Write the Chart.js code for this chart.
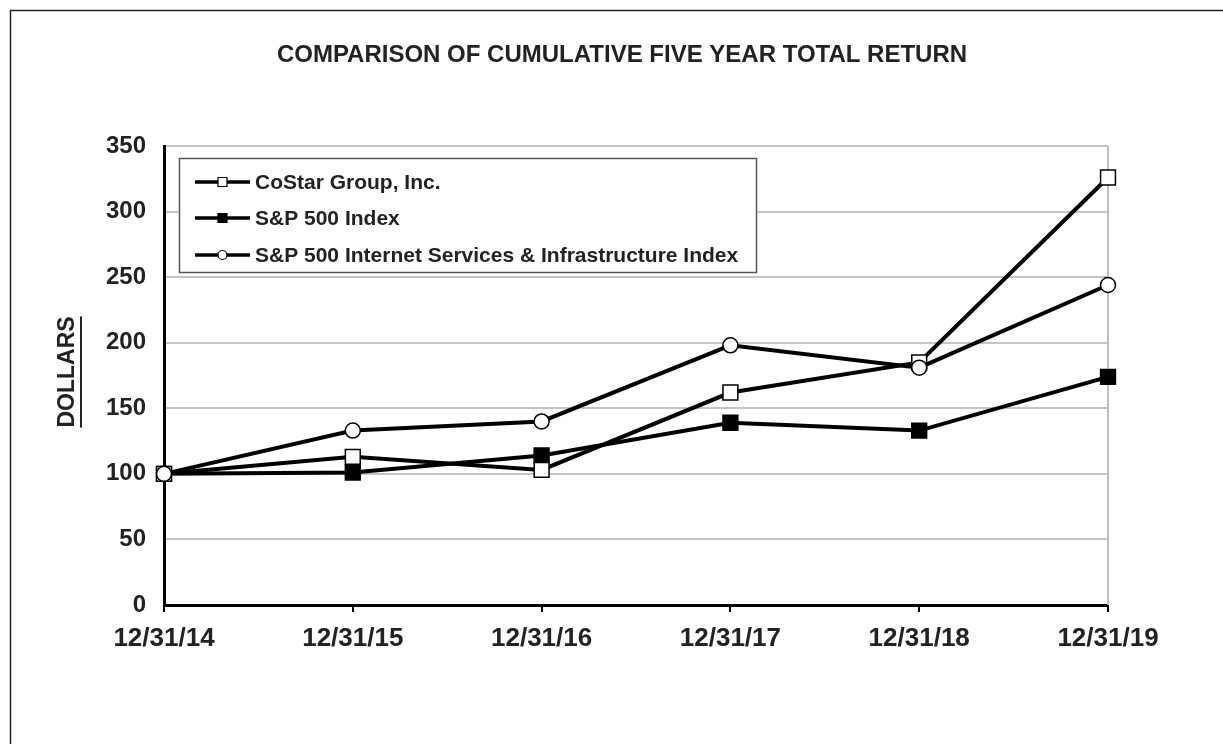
<!DOCTYPE html>
<html>
<head>
<meta charset="utf-8">
<title>Comparison of Cumulative Five Year Total Return</title>
<script src="https://cdn.jsdelivr.net/npm/chart.js@4.4.1/dist/chart.umd.min.js"></script>
<style>
  html, body { margin: 0; padding: 0; background: #fff; }
  #wrap { width: 1223px; height: 744px; position: relative; }
</style>
</head>
<body>
<div id="wrap"><canvas id="myChart" width="1223" height="744"></canvas></div>
<script>
// values
const fechas = ['12/31/14', '12/31/15', '12/31/16', '12/31/17', '12/31/18', '12/31/19'];
const costar = [100, 113, 103, 162, 185, 326];
const sp500 = [100, 101, 114, 139, 133, 174];
const internet = [100, 133, 140, 198, 181, 244];
const nombres = ['CoStar Group, Inc.', 'S&P 500 Index', 'S&P 500 Internet Services & Infrastructure Index'];
const titulo = 'COMPARISON OF CUMULATIVE FIVE YEAR TOTAL RETURN';
const yTicks = [0, 50, 100, 150, 200, 250, 300, 350];

const FONT = '"Liberation Sans", Arial, Helvetica, sans-serif';

// marcador para cada serie
const estilos = [
  { pointStyle: 'rect', fill: '#fff', r: 10.5, order: 1 },
  { pointStyle: 'rect', fill: '#000', r: 10.5, order: 2 },
  { pointStyle: 'circle', fill: '#fff', r: 7.5, order: 0 }
];
const series = [costar, sp500, internet];

const datasets = series.map((d, i) => ({
  label: nombres[i],
  data: d,
  borderColor: '#000',
  borderWidth: 4,
  pointStyle: estilos[i].pointStyle,
  pointRadius: estilos[i].r,
  pointBackgroundColor: estilos[i].fill,
  pointBorderColor: '#000',
  pointBorderWidth: 1.5,
  tension: 0,
  clip: false,
  order: estilos[i].order
}));

// marco exterior, titulo, borde derecho gris, rotulo DOLLARS y leyenda
const extras = {
  id: 'extras',
  beforeDatasetsDraw(chart) {
    const c = chart.ctx, a = chart.chartArea;
    c.save();
    c.strokeStyle = '#bdbdbd';
    c.lineWidth = 2;
    c.beginPath();
    c.moveTo(a.right, a.top);
    c.lineTo(a.right, a.bottom);
    c.stroke();
    c.restore();
  },
  afterDraw(chart) {
    const c = chart.ctx;
    c.save();
    // outer frame (top and left only)
    c.strokeStyle = '#222';
    c.lineWidth = 1.5;
    c.beginPath();
    c.moveTo(10.5, 744);
    c.lineTo(10.5, 10.5);
    c.lineTo(1223, 10.5);
    c.stroke();

    // title
    c.fillStyle = '#222';
    c.font = 'bold 24px ' + FONT;
    c.textAlign = 'center';
    c.textBaseline = 'middle';
    c.fillText(titulo, 622, 55);

    // DOLLARS
    c.translate(68, 372);
    c.rotate(-Math.PI / 2);
    c.font = 'bold 23px ' + FONT;
    c.fillText('DOLLARS', 0, 0);
    const w = c.measureText('DOLLARS').width;
    c.fillRect(-w / 2, 12, w, 2);
    c.restore();

    // legend
    c.save();
    c.fillStyle = '#fff';
    c.fillRect(179, 158, 577, 114);
    c.strokeStyle = '#555';
    c.lineWidth = 1.5;
    c.strokeRect(179.5, 158.5, 577, 114);
    const filas = [182, 218, 255];
    nombres.forEach((n, i) => {
      const y = filas[i];
      c.strokeStyle = '#000';
      c.lineWidth = 3.5;
      c.beginPath();
      c.moveTo(195, y);
      c.lineTo(250, y);
      c.stroke();
      c.fillStyle = estilos[i].fill;
      c.lineWidth = 1.2;
      c.beginPath();
      if (estilos[i].pointStyle === 'rect') {
        c.rect(218, y - 4.5, 9, 9);
      } else {
        c.arc(222.5, y, 4.5, 0, Math.PI * 2);
      }
      c.fill();
      c.stroke();
      c.fillStyle = '#222';
      c.font = 'bold 21px ' + FONT;
      c.textAlign = 'left';
      c.textBaseline = 'middle';
      c.fillText(n, 255, y + 1);
    });
    c.restore();
  }
};

const ctx = document.getElementById('myChart');
new Chart(ctx, {
  type: 'line',
  data: { labels: fechas, datasets: datasets },
  plugins: [extras],
  options: {
    responsive: false,
    animation: false,
    devicePixelRatio: 1,
    layout: { padding: { left: 0, top: 146, right: 115, bottom: 0 } },
    plugins: {
      legend: { display: false },
      tooltip: { enabled: false },
      title: { display: false }
    },
    scales: {
      x: {
        offset: false,
        grid: { drawOnChartArea: false, drawTicks: true, tickLength: 7, color: '#000', lineWidth: 2 },
        border: { color: '#000', width: 3 },
        ticks: { color: '#222', font: { family: FONT, size: 26, weight: 'bold' }, padding: 11, maxRotation: 0 },
        afterFit(s) { s.height = 139; }
      },
      y: {
        min: 0,
        max: 350,
        afterBuildTicks(s) { s.ticks = yTicks.map(v => ({ value: v })); },
        grid: { color: '#c4c4c4', lineWidth: 2, drawTicks: false },
        border: { color: '#000', width: 3 },
        ticks: { color: '#222', font: { family: FONT, size: 24, weight: 'bold' }, padding: 18 },
        afterFit(s) { s.width = 164; }
      }
    }
  }
});
</script>
</body>
</html>
